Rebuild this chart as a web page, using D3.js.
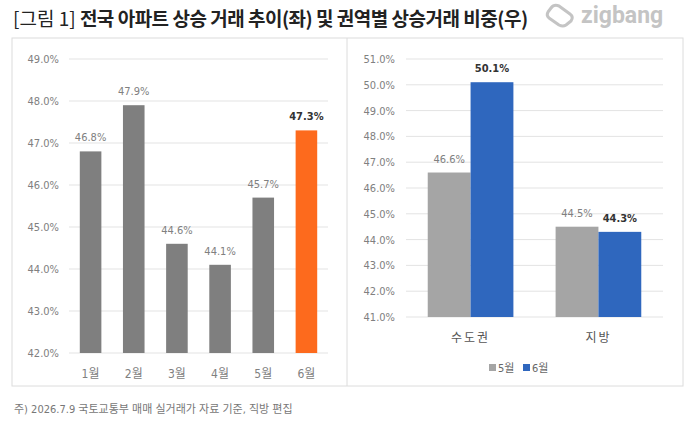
<!DOCTYPE html>
<html>
<head>
<meta charset="utf-8">
<script src="https://cdn.jsdelivr.net/npm/d3@7"></script>
<style>
  body { margin: 0; background: #fff; }
  svg text { font-family: "Liberation Sans Narrow", "DejaVu Sans Condensed", "Noto Sans CJK KR", sans-serif; }
  .kr { font-family: "Noto Sans CJK KR", sans-serif !important; }
</style>
</head>
<body>
<svg width="700" height="421"></svg>
<script>
// left chart: national rising trades share by month
var months = ["1월", "2월", "3월", "4월", "5월", "6월"];
var monthValues = [46.8, 47.9, 44.6, 44.1, 45.7, 47.3];
var leftTicks = [42, 43, 44, 45, 46, 47, 48, 49];

// right chart: share by region, May vs June
var regions = ["수도권", "지방"];
var seriesNames = ["5월", "6월"];
var mayValues = [46.6, 44.5];
var juneValues = [50.1, 44.3];
var rightTicks = [41, 42, 43, 44, 45, 46, 47, 48, 49, 50, 51];

var svg = d3.select("svg");
var fmt = function(v) { return v.toFixed(1) + "%"; };

// title
var title = svg.append("text")
    .attr("x", 13)
    .attr("y", 26)
    .attr("font-size", "19px")
    .attr("fill", "#222");
title.append("tspan")
    .attr("class", "kr")
    .attr("font-weight", "normal")
    .text("[그림 1] ");
title.append("tspan")
    .attr("class", "kr")
    .attr("font-weight", "bold")
    .attr("letter-spacing", "-0.5px")
    .text("전국 아파트 상승 거래 추이(좌) 및 권역별 상승거래 비중(우)");

// zigbang logo
svg.append("path")
    .attr("d", "M551,8 Q554,4 559,6 L570,14 Q574,17 571,21 L566,25 Q563,27 559,25 L549,18 Q546,15 548,12 Z")
    .attr("fill", "none")
    .attr("stroke", "#c4c4c4")
    .attr("stroke-width", 3)
    .attr("stroke-linejoin", "round");
svg.append("text")
    .attr("x", 581)
    .attr("y", 23)
    .attr("font-size", "23px")
    .attr("font-weight", "bold")
    .attr("fill", "#c4c4c4")
    .style("font-family", "Roboto, sans-serif")
    .text("zigbang");

// panel boxes
svg.append("rect")
    .attr("x", 12).attr("y", 38)
    .attr("width", 671).attr("height", 348)
    .attr("fill", "none").attr("stroke", "#dcdcdc");
svg.append("line")
    .attr("x1", 347).attr("x2", 347)
    .attr("y1", 38).attr("y2", 386)
    .attr("stroke", "#dcdcdc");

// ---------- left chart ----------
var x1 = d3.scaleBand().domain(months).range([69, 328]).paddingInner(0.5).paddingOuter(0.25);
var y1 = d3.scaleLinear().domain([42, 49]).range([353, 59]);

var gl = svg.append("g");
gl.selectAll(".grid")
    .data(leftTicks)
    .enter().append("line")
    .attr("x1", 69).attr("x2", 328)
    .attr("y1", function(d) { return y1(d); })
    .attr("y2", function(d) { return y1(d); })
    .attr("stroke", "#e3e3e3");

gl.selectAll(".ytick")
    .data(leftTicks)
    .enter().append("text")
    .attr("x", 59)
    .attr("y", function(d) { return y1(d) + 4; })
    .attr("text-anchor", "end")
    .attr("font-size", "11px")
    .attr("fill", "#808080")
    .text(fmt);

gl.selectAll(".bar")
    .data(monthValues)
    .enter().append("rect")
    .attr("x", function(d, i) { return x1(months[i]); })
    .attr("y", function(d) { return y1(d); })
    .attr("width", x1.bandwidth())
    .attr("height", function(d) { return y1(42) - y1(d); })
    .attr("fill", function(d, i) { return i == 5 ? "#fd6a1d" : "#7f7f7f"; });

gl.selectAll(".val")
    .data(monthValues)
    .enter().append("text")
    .attr("x", function(d, i) { return x1(months[i]) + x1.bandwidth() / 2; })
    .attr("y", function(d) { return y1(d) - 10; })
    .attr("text-anchor", "middle")
    .attr("font-size", "11px")
    .attr("font-weight", function(d, i) { return i == 5 ? "bold" : "normal"; })
    .attr("fill", function(d, i) { return i == 5 ? "#333" : "#808080"; })
    .text(fmt);

gl.selectAll(".xlab")
    .data(months)
    .enter().append("text")
    .attr("x", function(d) { return x1(d) + x1.bandwidth() / 2; })
    .attr("y", 378)
    .attr("text-anchor", "middle")
    .attr("font-size", "12px")
    .attr("fill", "#808080")
    .text(function(d) { return d; });

// ---------- right chart ----------
var x2 = d3.scaleBand().domain(regions).range([406, 663]).paddingInner(0.33).paddingOuter(0.17);
var xs = d3.scaleBand().domain(seriesNames).range([0, x2.bandwidth()]);
var y2 = d3.scaleLinear().domain([41, 51]).range([317, 59]);
var colors = ["#a5a5a5", "#2f67be"];
var seriesData = [mayValues, juneValues];

var gr = svg.append("g");
gr.selectAll(".grid")
    .data(rightTicks)
    .enter().append("line")
    .attr("x1", 406).attr("x2", 663)
    .attr("y1", function(d) { return y2(d); })
    .attr("y2", function(d) { return y2(d); })
    .attr("stroke", "#e3e3e3");

gr.selectAll(".ytick")
    .data(rightTicks)
    .enter().append("text")
    .attr("x", 395)
    .attr("y", function(d) { return y2(d) + 4; })
    .attr("text-anchor", "end")
    .attr("font-size", "11px")
    .attr("fill", "#808080")
    .text(fmt);

seriesData.forEach(function(vals, s) {
    gr.selectAll(".bar" + s)
        .data(vals)
        .enter().append("rect")
        .attr("x", function(d, i) { return x2(regions[i]) + xs(seriesNames[s]); })
        .attr("y", function(d) { return y2(d); })
        .attr("width", xs.bandwidth())
        .attr("height", function(d) { return y2(41) - y2(d); })
        .attr("fill", colors[s]);

    gr.selectAll(".val" + s)
        .data(vals)
        .enter().append("text")
        .attr("x", function(d, i) { return x2(regions[i]) + xs(seriesNames[s]) + xs.bandwidth() / 2; })
        .attr("y", function(d) { return y2(d) - 10; })
        .attr("text-anchor", "middle")
        .attr("font-size", "11px")
        .attr("font-weight", s == 1 ? "bold" : "normal")
        .attr("fill", s == 1 ? "#333" : "#808080")
        .text(fmt);
});

gr.selectAll(".xlab")
    .data(regions)
    .enter().append("text")
    .attr("class", "kr")
    .attr("x", function(d) { return x2(d) + x2.bandwidth() / 2; })
    .attr("y", 342)
    .attr("text-anchor", "middle")
    .attr("font-size", "12px")
    .attr("letter-spacing", "2px")
    .attr("fill", "#555")
    .text(function(d) { return d; });

// legend
var legend = gr.selectAll(".leg")
    .data(seriesNames)
    .enter().append("g")
    .attr("transform", function(d, i) { return "translate(" + (489 + i * 34) + ",368)"; });
legend.append("rect")
    .attr("x", 0).attr("y", -4)
    .attr("width", 7).attr("height", 7)
    .attr("fill", function(d, i) { return colors[i]; });
legend.append("text")
    .attr("x", 9)
    .attr("y", 4)
    .attr("font-size", "11px")
    .attr("fill", "#666")
    .text(function(d) { return d; });

// footnote
svg.append("text")
    .attr("x", 14)
    .attr("y", 413)
    .attr("font-size", "11px")
    .attr("fill", "#777")
    .text("주) 2026.7.9 국토교통부 매매 실거래가 자료 기준, 직방 편집");
</script>
</body>
</html>
